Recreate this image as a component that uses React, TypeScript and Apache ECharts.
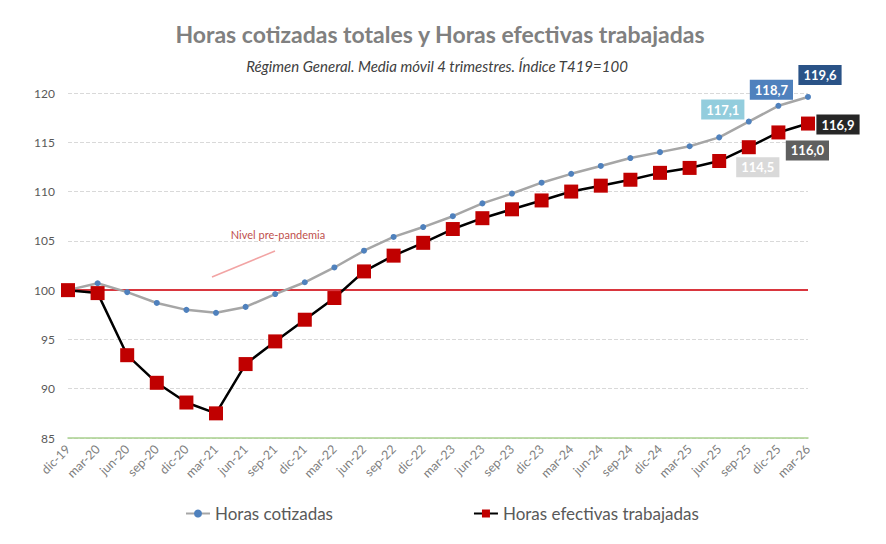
import React, { useEffect, useRef } from "react";
import * as echarts from "echarts";

const categories = [
  "dic-19", "mar-20", "jun-20", "sep-20", "dic-20", "mar-21", "jun-21", "sep-21",
  "dic-21", "mar-22", "jun-22", "sep-22", "dic-22", "mar-23", "jun-23", "sep-23",
  "dic-23", "mar-24", "jun-24", "sep-24", "dic-24", "mar-25", "jun-25", "sep-25",
  "dic-25", "mar-26",
];

const horasCotizadas = [
  100, 100.7, 99.8, 98.7, 98.0, 97.7, 98.3, 99.6, 100.8, 102.3, 104.0, 105.4, 106.4,
  107.5, 108.8, 109.8, 110.9, 111.8, 112.6, 113.4, 114.0, 114.6, 115.5, 117.1, 118.7, 119.6,
];

const horasEfectivas = [
  100, 99.7, 93.4, 90.6, 88.6, 87.5, 92.5, 94.8, 97.0, 99.2, 101.9, 103.5, 104.8,
  106.2, 107.3, 108.2, 109.1, 110.0, 110.6, 111.2, 111.9, 112.4, 113.1, 114.5, 116.0, 116.9,
];

const yMin = 85;
const yMax = 120;
const yStep = 5;
const nivelPrePandemia = 100;

const FONT = "Lato, 'Open Sans', sans-serif";

// cajas de etiqueta de los últimos trimestres
const cotizadasLabels: Record<number, { bg: string; offset: [number, number] }> = {
  23: { bg: "#93cddd", offset: [-26, -12] },
  24: { bg: "#4f81bd", offset: [-7, -16] },
  25: { bg: "#2a5387", offset: [12, -22] },
};
const efectivasLabels: Record<number, { bg: string; offset: [number, number] }> = {
  23: { bg: "#d9d9d9", offset: [9, 20] },
  24: { bg: "#5f5f5f", offset: [29, 18] },
  25: { bg: "#262626", offset: [30, 1] },
};

const fmt = (v: number) => v.toFixed(1).replace(".", ",");

const withLabels = (
  values: number[],
  labels: Record<number, { bg: string; offset: [number, number] }>
) =>
  values.map((v, i) => {
    const l = labels[i];
    if (!l) return v;
    return {
      value: v,
      label: {
        show: true,
        position: "inside",
        offset: l.offset,
        formatter: () => fmt(v),
        color: "#ffffff",
        fontFamily: FONT,
        fontSize: 13,
        fontWeight: "bold",
        backgroundColor: l.bg,
        padding: [4, 5, 3, 5],
      },
    };
  });

const App = () => {
  const chartRef = useRef<HTMLDivElement>(null);

  useEffect(() => {
    const chart = echarts.init(chartRef.current, null, { renderer: "svg" });

    chart.setOption({
      animation: false,
      textStyle: { fontFamily: FONT },
      title: [
        {
          text: "Horas cotizadas totales y Horas efectivas trabajadas",
          left: 435,
          textAlign: "center",
          top: 17,
          textStyle: { color: "#808080", fontSize: 23, fontWeight: "bold", fontFamily: FONT },
        },
        {
          text: "Régimen General. Media móvil 4 trimestres. Índice T419=100",
          left: 432,
          textAlign: "center",
          top: 53,
          textStyle: { color: "#404040", fontSize: 15, fontStyle: "italic", fontWeight: "normal", fontFamily: FONT },
        },
      ],
      legend: {
        left: 180,
        top: 500,
        itemGap: 140,
        itemWidth: 24,
        itemHeight: 10,
        textStyle: { color: "#595959", fontSize: 17, fontFamily: FONT },
        data: ["Horas cotizadas", "Horas efectivas trabajadas"],
      },
      grid: { left: 68, right: 78, top: 93, bottom: 106 },
      xAxis: {
        type: "category",
        boundaryGap: false,
        data: categories,
        axisLine: { lineStyle: { color: "#a9d18e", width: 1.5 } },
        axisTick: { show: false },
        axisLabel: { rotate: 45, interval: 0, color: "#7f7f7f", fontSize: 12.5, margin: 9 },
      },
      yAxis: {
        type: "value",
        min: yMin,
        max: yMax,
        interval: yStep,
        axisLine: { show: false },
        axisTick: { show: false },
        axisLabel: { color: "#595959", fontSize: 12, margin: 13 },
        splitLine: { lineStyle: { color: "#d9d9d9", type: "dashed" } },
      },
      graphic: [
        {
          type: "line",
          shape: { x1: 212, y1: 277, x2: 275, y2: 251 },
          style: { stroke: "#f2a4a4", lineWidth: 1.5 },
        },
        {
          type: "text",
          x: 278,
          y: 234,
          style: {
            text: "Nivel pre-pandemia",
            fill: "#c0504d",
            fontSize: 11,
            fontFamily: FONT,
            align: "center",
            verticalAlign: "middle",
          },
        },
      ],
      series: [
        {
          name: "Horas cotizadas",
          type: "line",
          data: withLabels(horasCotizadas, cotizadasLabels),
          symbol: "circle",
          symbolSize: 6,
          lineStyle: { color: "#a6a6a6", width: 2.5 },
          itemStyle: { color: "#4f81bd" },
          z: 3,
          markLine: {
            silent: true,
            symbol: "none",
            label: { show: false },
            lineStyle: { color: "#d9363e", width: 2, type: "solid" },
            data: [{ yAxis: nivelPrePandemia }],
            z: 1,
          },
        },
        {
          name: "Horas efectivas trabajadas",
          type: "line",
          data: withLabels(horasEfectivas, efectivasLabels),
          symbol: "rect",
          symbolSize: 14,
          lineStyle: { color: "#000000", width: 2.5 },
          itemStyle: { color: "#c00000" },
          z: 4,
        },
      ],
    });

    return () => {
      chart.dispose();
    };
  }, []);

  return (
    <div
      ref={chartRef}
      style={{ position: "fixed", left: 0, top: 0, width: "886px", height: "544px", background: "#ffffff" }}
    ></div>
  );
};

export default App;
